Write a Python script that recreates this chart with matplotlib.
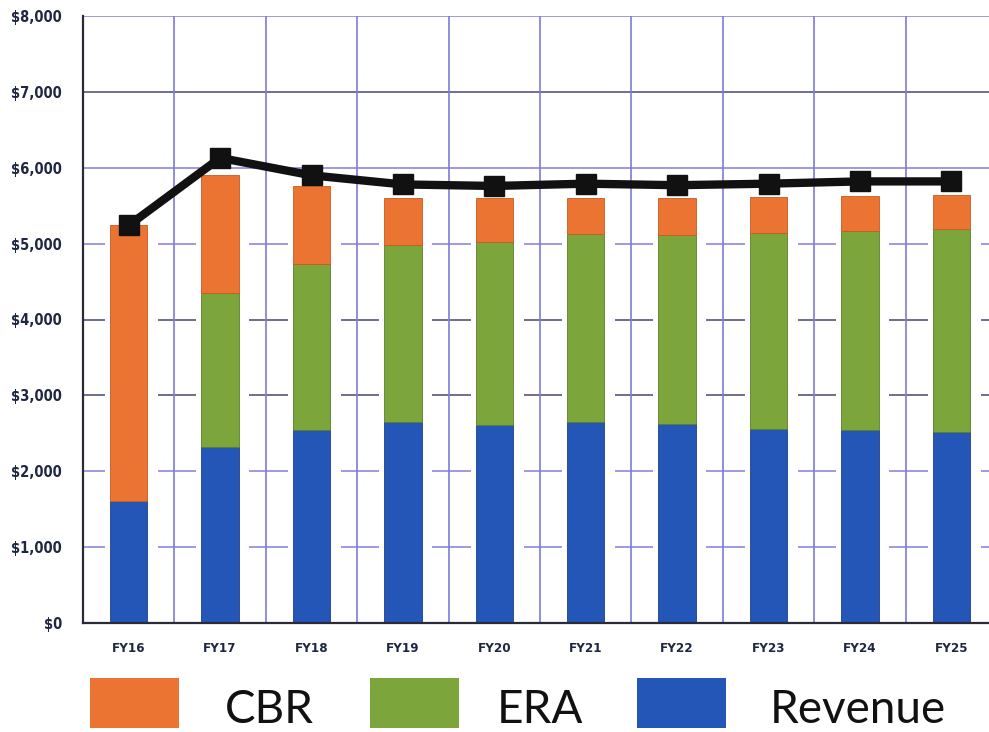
import matplotlib
matplotlib.use("Agg")
import matplotlib.pyplot as plt
from matplotlib.patches import Rectangle
from matplotlib import font_manager
import numpy as np

# ---- data (dollars) ----
years = ["FY16", "FY17", "FY18", "FY19", "FY20", "FY21", "FY22", "FY23", "FY24", "FY25"]
revenue = [1610, 2320, 2540, 2650, 2610, 2650, 2620, 2560, 2540, 2520]
era = [0, 2030, 2190, 2330, 2410, 2475, 2490, 2580, 2625, 2670]
cbr = [3630, 1550, 1030, 620, 580, 475, 490, 470, 465, 450]
total_line = [5240, 6130, 5900, 5780, 5760, 5790, 5770, 5790, 5820, 5820]

series_names = ["CBR", "ERA", "Revenue"]
series_colors = ["#EC7433", "#7CA63C", "#2456B8"]

y_ticks = [0, 1000, 2000, 3000, 4000, 5000, 6000, 7000, 8000]

# pick a narrow bold face for the tick labels if one is installed
names = {f.name for f in font_manager.fontManager.ttflist}
if "Liberation Sans Narrow" in names:
    tick_kw = dict(family="Liberation Sans Narrow", fontweight="bold")
else:
    tick_kw = dict(family="DejaVu Sans", fontweight="bold", fontstretch="condensed")

fig = plt.figure(figsize=(9.89, 7.32), dpi=100)
ax = fig.add_axes([83 / 989, 109 / 732, 914 / 989, 607 / 732])

x = np.arange(len(years))
rev = np.array(revenue)
er = np.array(era)
cb = np.array(cbr)

# grid: horizontal lines alternate between two tones, vertical at category edges
dark_rows = {3000, 4000, 7000}
for v in y_ticks:
    ax.axhline(v, color="#55557a" if v in dark_rows else "#8c88e0", lw=1.2, zorder=0)
for b in np.arange(-0.5, len(years) + 0.5, 1.0):
    ax.axvline(b, color="#7f7bd6", lw=1.2, zorder=0)

# white halo behind the stacks leaves a gap in the grid lines
ax.bar(x + 0.03, rev + er + cb, width=0.58, color="white", zorder=1)

bw = 0.41
ax.bar(x, rev, width=bw, color=series_colors[2], zorder=2, edgecolor="#1c3f86", linewidth=0.6)
ax.bar(x, er, bottom=rev, width=bw, color=series_colors[1], zorder=2, edgecolor="#5d7e2a", linewidth=0.6)
ax.bar(x, cb, bottom=rev + er, width=bw, color=series_colors[0], zorder=2, edgecolor="#c85a20", linewidth=0.6)

# total line with square markers
ax.plot(x, total_line, color="#111111", lw=6, marker="s", markersize=15,
        markerfacecolor="#111111", markeredgecolor="#111111", zorder=4,
        solid_joinstyle="round")

ax.set_xlim(-0.5, len(years) - 0.5)
ax.set_ylim(0, 8000)
ax.set_yticks(y_ticks)
ax.set_yticklabels([f"${v:,}" for v in y_ticks])
ax.set_xticks(x)
ax.set_xticklabels(years)

for lab in ax.get_yticklabels():
    lab.set(**tick_kw, fontsize=10.5, color="#1e2742")
for lab in ax.get_xticklabels():
    lab.set(**tick_kw, fontsize=9.5, color="#1e2742")
ax.tick_params(axis="y", length=0, pad=15)
ax.tick_params(axis="x", length=0, pad=14)

for side in ["top", "right"]:
    ax.spines[side].set_visible(False)
for side in ["left", "bottom"]:
    ax.spines[side].set_color("#2a2a3a")
    ax.spines[side].set_linewidth(1.6)

# legend row along the bottom of the figure
sw_x = [90, 370, 637]
tx_x = [225, 497, 770]
for name, col, sx, tx in zip(series_names, series_colors, sw_x, tx_x):
    fig.add_artist(Rectangle((sx / 989, 4 / 732), 89 / 989, 50 / 732,
                             transform=fig.transFigure, facecolor=col, edgecolor="none"))
    fig.text(tx / 989, 22 / 732, name, ha="left", va="center", fontsize=33,
             family=["Lato", "DejaVu Sans"], color="#111111")

fig.savefig("out.png", dpi=100, facecolor="white")
